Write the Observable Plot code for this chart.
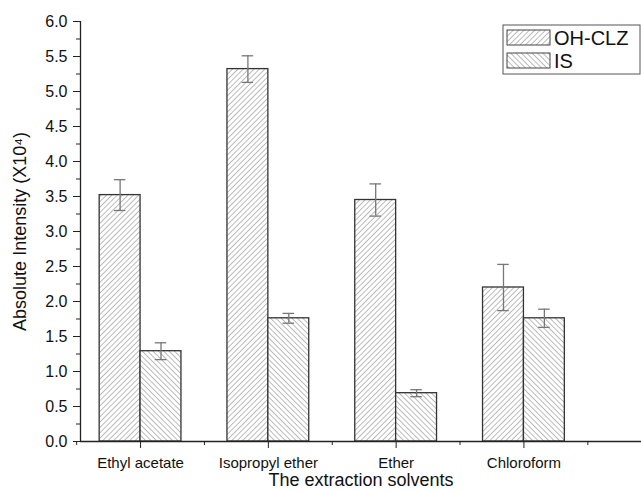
<!DOCTYPE html>
<html><head><meta charset="utf-8">
<script src="https://cdn.jsdelivr.net/npm/d3@7"></script>
<script src="https://cdn.jsdelivr.net/npm/@observablehq/plot@0.6"></script>
<style>body{margin:0;background:#fff}</style>
</head><body><div id="chart"></div>
<script>
const solvents = ["Ethyl acetate", "Isopropyl ether", "Ether", "Chloroform"];
const seriesNames = ["OH-CLZ", "IS"];
const ohclz = [3.52, 5.32, 3.45, 2.20];
const ohclzErr = [0.22, 0.19, 0.23, 0.33];
const isVals = [1.29, 1.76, 0.69, 1.76];
const isErr = [0.12, 0.07, 0.05, 0.13];
const yMajor = [0, 0.5, 1, 1.5, 2, 2.5, 3, 3.5, 4, 4.5, 5, 5.5, 6];
const yMinor = [0.25, 0.75, 1.25, 1.75, 2.25, 2.75, 3.25, 3.75, 4.25, 4.75, 5.25, 5.75];
const xMajor = [1, 2, 3, 4];
const xMinor = [0.5, 1.5, 2.5, 3.5, 4.5];

const BW = 0.32;
const data = [];
solvents.forEach((s, i) => {
  data.push({pos: i + 1, cat: s, series: "OH-CLZ", value: ohclz[i], err: ohclzErr[i], x1: i + 1 - BW, x2: i + 1});
  data.push({pos: i + 1, cat: s, series: "IS", value: isVals[i], err: isErr[i], x1: i + 1, x2: i + 1 + BW});
});
data.forEach(d => { d.c = (d.x1 + d.x2) / 2; });
const A = data.filter(d => d.series === "OH-CLZ");
const B = data.filter(d => d.series === "IS");
const CAP = 0.045;
const font = "Liberation Sans, Arial, Helvetica, sans-serif";

const plot = Plot.plot({
  width: 641, height: 493,
  marginLeft: 80, marginRight: 0, marginTop: 21, marginBottom: 52,
  x: {domain: [0.53, 4.92], axis: null},
  y: {domain: [0, 6], axis: null},
  style: {fontFamily: font, background: "#fff", color: "#111", overflow: "visible"},
  marks: [
    Plot.rect(A, {x1: "x1", x2: "x2", y1: 0, y2: "value", fill: "url(#hatchA)", stroke: "#333", strokeWidth: 1.3}),
    Plot.rect(B, {x1: "x1", x2: "x2", y1: 0, y2: "value", fill: "url(#hatchB)", stroke: "#333", strokeWidth: 1.3}),
    Plot.ruleX(data, {x: "c", y1: d => d.value - d.err, y2: d => d.value + d.err, stroke: "#777", strokeWidth: 1.3}),
    Plot.ruleY(data, {y: d => d.value + d.err, x1: d => d.c - CAP, x2: d => d.c + CAP, stroke: "#777", strokeWidth: 1.3}),
    Plot.ruleY(data, {y: d => d.value - d.err, x1: d => d.c - CAP, x2: d => d.c + CAP, stroke: "#777", strokeWidth: 1.3}),
    Plot.ruleX([0.53], {y1: 0, y2: 6, stroke: "#222", strokeWidth: 1.3}),
    Plot.ruleY([0], {stroke: "#222", strokeWidth: 1.3}),
    Plot.axisY({ticks: yMajor, tickFormat: d3.format(".1f"), tickSize: 7, tickPadding: 6, fontSize: 16, label: null, stroke: "#222"}),
    Plot.axisY({ticks: yMinor, tickFormat: () => "", tickSize: 4, label: null, stroke: "#222"}),
    Plot.axisX({ticks: xMajor, tickFormat: i => solvents[i - 1], tickSize: 7, tickPadding: 9, fontSize: 15, label: null, stroke: "#222"}),
    Plot.axisX({ticks: xMinor, tickFormat: () => "", tickSize: 4, label: null, stroke: "#222"}),
    Plot.text(["The extraction solvents"], {frameAnchor: "bottom", dy: 44, fontSize: 18, fill: "#111"}),
    Plot.text(["Absolute Intensity (X10⁴)"], {frameAnchor: "left", textAnchor: "middle", rotate: -90, dx: -60, fontSize: 18, fill: "#111"})
  ]
});

const svg = d3.select(plot);
svg.insert("defs", ":first-child").html(`
  <pattern id="hatchA" patternUnits="userSpaceOnUse" width="3.8" height="3.8" patternTransform="rotate(45)">
    <rect width="3.8" height="3.8" fill="#fff"/>
    <line x1="0" y1="0" x2="0" y2="3.8" stroke="#6a6a6a" stroke-width="0.9"/>
  </pattern>
  <pattern id="hatchB" patternUnits="userSpaceOnUse" width="3.8" height="3.8" patternTransform="rotate(-45)">
    <rect width="3.8" height="3.8" fill="#fff"/>
    <line x1="0" y1="0" x2="0" y2="3.8" stroke="#6a6a6a" stroke-width="0.9"/>
  </pattern>`);

// legend
const lg = svg.append("g").attr("font-family", font).attr("text-anchor", "start");
lg.append("rect").attr("x", 503).attr("y", 25).attr("width", 137).attr("height", 49)
  .attr("fill", "#fff").attr("stroke", "#555").attr("stroke-width", 1);
seriesNames.forEach((name, i) => {
  const y0 = 30 + i * 23;
  lg.append("rect").attr("x", 507).attr("y", y0).attr("width", 43).attr("height", 15)
    .attr("fill", i === 0 ? "url(#hatchA)" : "url(#hatchB)").attr("stroke", "#444").attr("stroke-width", 1);
  lg.append("text").attr("x", 554).attr("y", y0 + 15).attr("font-size", 20).attr("fill", "#111").text(name);
});

document.getElementById("chart").appendChild(plot);
</script>
</body></html>
